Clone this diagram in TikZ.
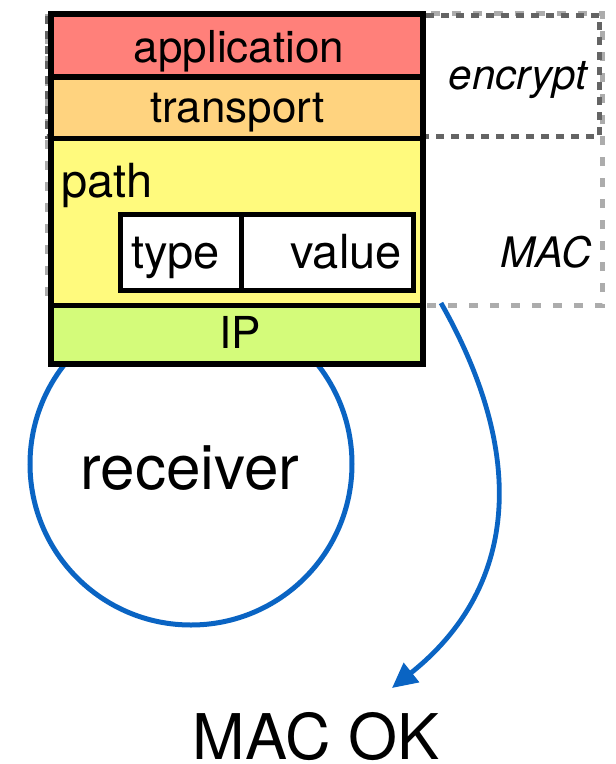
\documentclass[tikz,border=0pt]{standalone}
\usepackage{fontspec}
\setmainfont{TeX Gyre Heros}
\usetikzlibrary{arrows.meta}
\definecolor{appred}{RGB}{255,128,122}
\definecolor{transorange}{RGB}{255,211,127}
\definecolor{pathyellow}{RGB}{255,250,125}
\definecolor{ipgreen}{RGB}{212,251,122}
\definecolor{linkblue}{RGB}{10,100,195}
\definecolor{dashdark}{RGB}{100,100,100}
\definecolor{dashlight}{RGB}{172,172,172}
\begin{document}
\begin{tikzpicture}[x=1pt,y=-1pt,
  layer/.style={draw=black, line width=5.5pt, rectangle, inner sep=0pt, outer sep=0pt},
  cell/.style={draw=black, line width=5pt, fill=white, rectangle, inner sep=0pt, outer sep=0pt},
  lbl/.style={inner sep=0pt, font=\fontsize{44}{48}\selectfont},
  biglbl/.style={inner sep=0pt, font=\fontsize{62}{66}\selectfont},
  itlbl/.style={inner sep=0pt, font=\fontsize{42}{46}\selectfont\itshape},
  region/.style={line width=4.5pt},
  flow/.style={draw=linkblue, line width=4.8pt, -{Triangle[length=25pt,width=24pt]}}]
\useasboundingbox (0,0) rectangle (616,764);

% protected regions behind the header stack
\draw[region, dashlight, dash pattern=on 9pt off 12pt] (47,13.5) rectangle (602.5,305.5);
\draw[region, dashdark, dash pattern=on 8pt off 7pt] (47,15.5) rectangle (599.5,136.5);

% receiver
\node[circle, draw=linkblue, line width=5pt, minimum size=322pt, inner sep=0pt] (receiver) at (191,464) {};
\node[biglbl, anchor=base] (receivertext) at (190,489) {receiver};

% header stack
\node[layer, fill=appred, minimum width=372pt, minimum height=63pt] (application) at (237,45.5) {};
\node[layer, fill=transorange, minimum width=372pt, minimum height=61.5pt] (transport) at (237,107.75) {};
\node[layer, fill=pathyellow, minimum width=372pt, minimum height=167pt] (path) at (237,222) {};
\node[layer, fill=ipgreen, minimum width=372pt, minimum height=58.5pt] (ip) at (237,334.75) {};

% type/value field inside the path header
\node[cell, minimum width=121pt, minimum height=76pt] (type) at (180.5,252) {};
\node[cell, minimum width=172pt, minimum height=76pt] (value) at (327,252) {};

% labels
\node[lbl, anchor=base] (applicationtext) at (239,62) {application};
\node[lbl, anchor=base] (transporttext) at (237.5,122) {transport};
\node[lbl, anchor=base west, font=\fontsize{47}{50}\selectfont] (pathtext) at (61,197) {path};
\node[lbl, anchor=base west, font=\fontsize{47}{50}\selectfont] (typetext) at (131,268) {type};
\node[lbl, anchor=base east, font=\fontsize{47}{50}\selectfont] (valuetext) at (402,268) {value};
\node[lbl, anchor=base] (iptext) at (240,348) {IP};
\node[itlbl, anchor=base east] (encrypttext) at (587,89) {encrypt};
\node[itlbl, anchor=base east] (mactext) at (592,267) {MAC};

% verification result
\node[biglbl, anchor=base, font=\fontsize{63}{66}\selectfont] (macok) at (316,759) {MAC OK};
\coordinate (macstart) at (441,303);
\coordinate (mactip) at (392,688);
\draw[flow] (macstart) .. controls (530,460) and (515,590) .. (mactip);
\end{tikzpicture}
\end{document}
